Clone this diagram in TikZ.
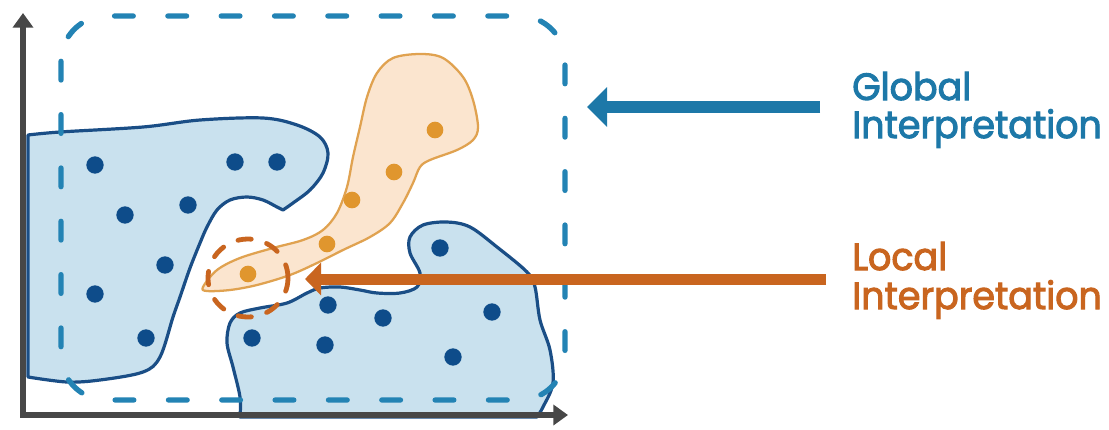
\documentclass[tikz,border=0pt]{standalone}
\usepackage{fontspec}
\usetikzlibrary{arrows.meta}
\newfontfamily\labelfont{Poppins}[FakeStretch=0.96,FakeBold=2.6]
\definecolor{axisgray}{HTML}{474747}
\definecolor{gblue}{HTML}{1D78A8}
\definecolor{dashblue}{HTML}{2383B4}
\definecolor{blobfill}{HTML}{C9E1EE}
\definecolor{blobline}{HTML}{1A4E86}
\definecolor{dotblue}{HTML}{0E4C8A}
\definecolor{lorange}{HTML}{C9651F}
\definecolor{ofill}{HTML}{FBE5CF}
\definecolor{oline}{HTML}{E0A250}
\definecolor{odot}{HTML}{E0962E}
\begin{document}
\begin{tikzpicture}[x=0.75pt,y=-0.75pt,
  blob/.style={fill=blobfill,draw=blobline,line width=2.4pt,line join=round},
  oblob/.style={fill=ofill,draw=oline,line width=1.7pt,line join=round},
  bdot/.style={circle,fill=dotblue,minimum size=13pt,inner sep=0pt},
  odotst/.style={circle,fill=odot,minimum size=12.5pt,inner sep=0pt},
  globalbox/.style={draw=dashblue,line width=4pt,line cap=round,dash pattern=on 14pt off 26pt,rounded corners=34pt},
  localring/.style={draw=lorange,line width=3.6pt,line cap=round,dash pattern=on 10pt off 12pt},
  axisline/.style={draw=axisgray,line width=5pt,{Triangle[length=11pt,width=15pt]}-{Triangle[length=11pt,width=15pt]}},
  garrow/.style={draw=gblue,line width=9pt,-{Triangle[length=15pt,width=29pt]}},
  larrow/.style={draw=lorange,line width=8.25pt,-{Triangle[length=12pt,width=24pt]}},
  gtext/.style={font=\labelfont\fontsize{28.5pt}{34pt}\selectfont,text=gblue,anchor=base west,inner sep=0pt},
  ltext/.style={font=\labelfont\fontsize{28.5pt}{34pt}\selectfont,text=lorange,anchor=base west,inner sep=0pt}
]
\useasboundingbox (0,0) rectangle (1109,429);
\fill[white] (0,0) rectangle (1109,429);

% left blob
\path[blob] (28,377) -- (28,135)
  -- plot[smooth,tension=0.55] coordinates {(28,135) (60,132) (143,127) (200,120) (263,118) (297,125) (320,137) (328,153) (323,173) (310,190) (293,203) (283,210)}
  -- plot[smooth,tension=0.55] coordinates {(283,210) (277,207) (263,200) (247,197) (230,200) (217,210) (207,227) (200,243) (190,268) (180,297) (173,317) (160,357) (143,372) (100,380) (67,382) (28,377)}
  -- cycle;

% lower blob
\path[blob] (240,417)
  -- plot[smooth,tension=0.55] coordinates {(240,417) (240,397) (233,367) (227,343) (230,323) (240,313) (260,308) (287,303) (307,293) (320,288) (340,287) (360,290) (377,293) (400,293) (417,287) (420,273) (410,253) (410,237) (423,225) (447,222) (470,227) (497,247) (527,272) (535,287) (540,320) (550,350) (553,383) (543,407) (537,417)}
  -- cycle;

% orange blob
\path[oblob] plot[smooth cycle,tension=0.55] coordinates {(203,287) (217,270) (240,258) (273,248) (303,240) (323,230) (337,213) (347,187) (353,157) (360,127) (367,97) (377,73) (393,58) (420,54) (443,58) (463,77) (473,100) (478,127) (473,140) (457,150) (430,160) (420,167) (413,183) (403,203) (390,223) (370,237) (343,250) (317,263) (290,275) (257,285) (230,290) (207,291)};

% global dashed region
\path[globalbox] (61,16) rectangle (565,400);

% blue dots
\foreach \p/\n in {{(95,165)}/b1,{(235,162)}/b2,{(277,162)}/b3,{(125,215)}/b4,{(188,205)}/b5,{(165,265)}/b6,{(95,294)}/b7,{(146,338)}/b8,{(440,248)}/b9,{(328,305)}/b10,{(383,318)}/b11,{(492,312)}/b12,{(252,338)}/b13,{(325,345)}/b14,{(453,357)}/b15}
  \node[bdot] (\n) at \p {};

% orange dots
\foreach \p/\n in {{(435,130)}/o1,{(394,172)}/o2,{(352,200)}/o3,{(327,244)}/o4,{(248,274)}/o5}
  \node[odotst] (\n) at \p {};

% local dashed ring
\path[localring] (248,278) ellipse [x radius=40, y radius=39];

% axes
\coordinate (ytip) at (23,13);
\coordinate (xtip) at (568,415);
\path[axisline] (ytip) |- (xtip);

% labels
\node[gtext] (global1) at (852,100) {Global};
\node[gtext] (global2) at (852,138) {Interpretation};
\node[ltext] (local1) at (852,270) {Local};
\node[ltext] (local2) at (852,309) {Interpretation};

% arrows
\coordinate (gtail) at (820,107);
\coordinate (gtip) at (587,107);
\coordinate (ltail) at (826,279);
\coordinate (ltip) at (305,279);
\path[garrow] (gtail) -- (gtip);
\path[larrow] (ltail) -- (ltip);
\end{tikzpicture}
\end{document}
